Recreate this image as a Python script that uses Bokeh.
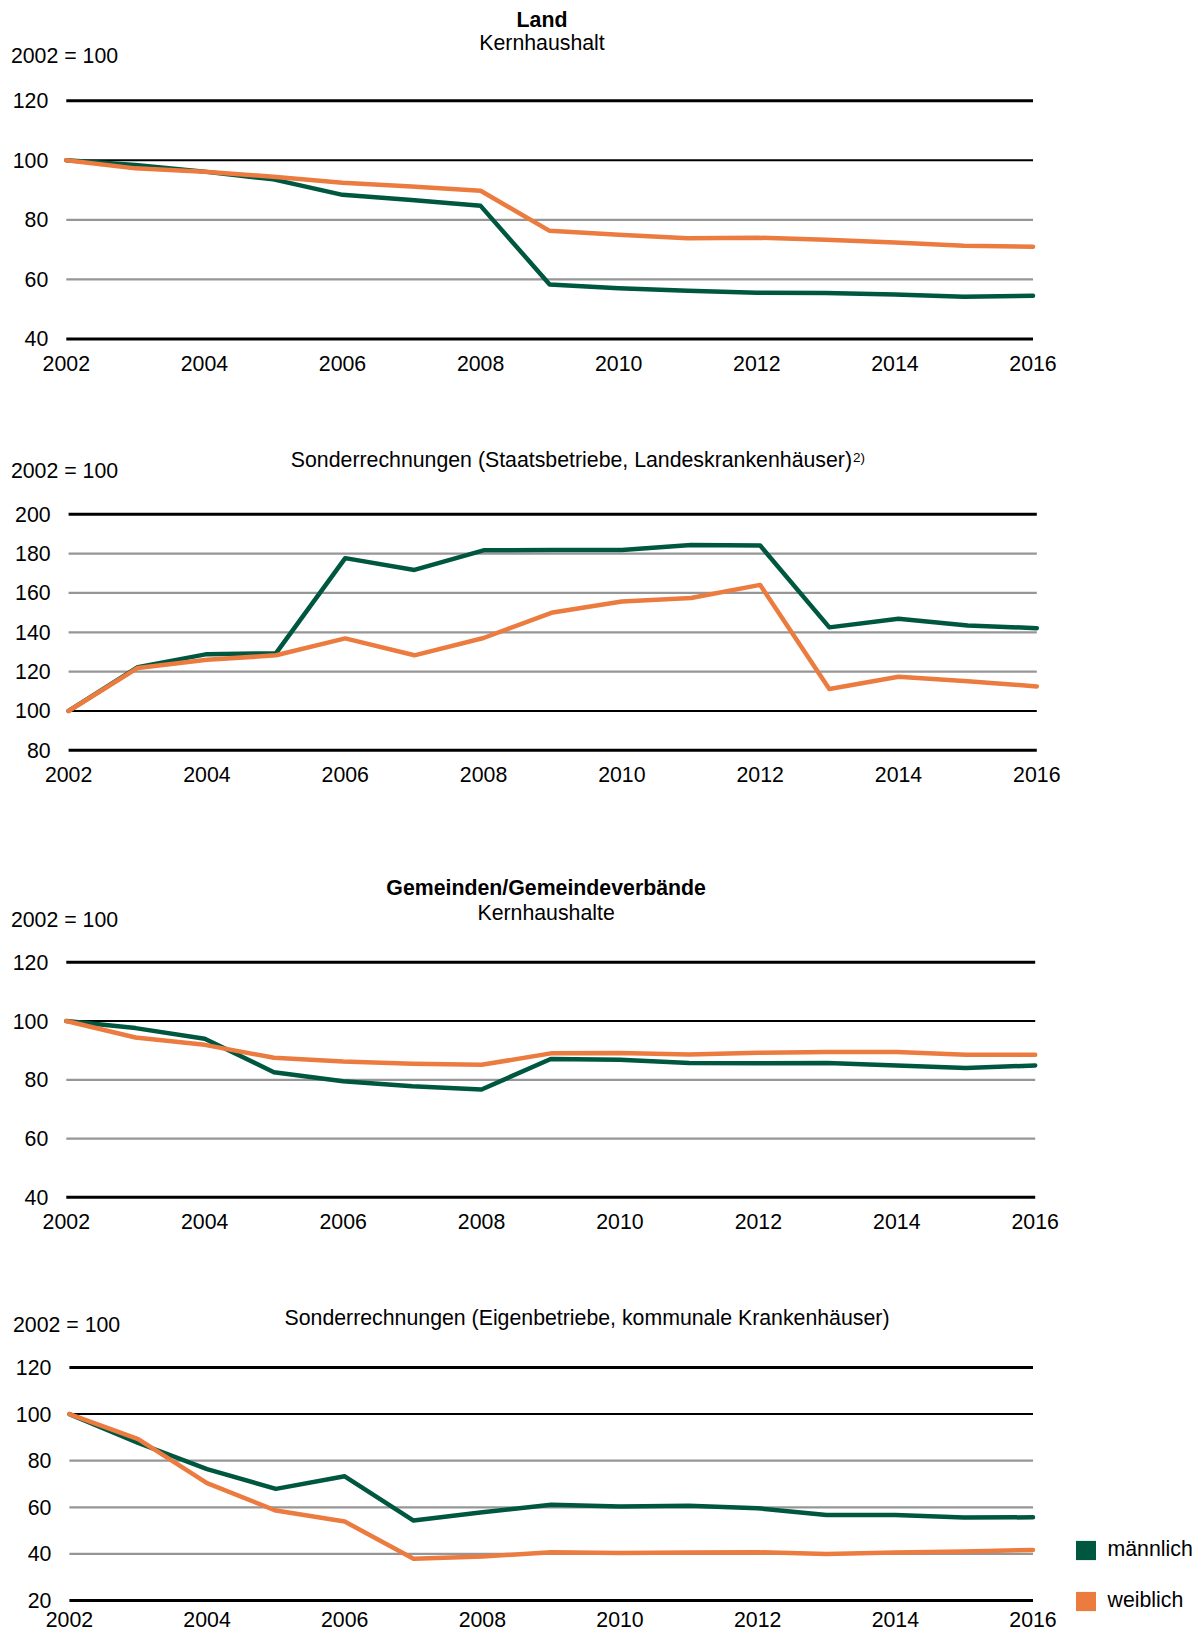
from bokeh.plotting import figure
from bokeh.models import Range1d, FixedTicker, Label, Legend, LegendItem
from bokeh.layouts import column
from bokeh.embed import file_html
from bokeh.resources import INLINE

# ---------------- data ----------------
years = [2002, 2003, 2004, 2005, 2006, 2007, 2008, 2009, 2010, 2011, 2012, 2013, 2014, 2015, 2016]
year_ticks = [2002, 2004, 2006, 2008, 2010, 2012, 2014, 2016]

land_m = [100, 98.4, 96.2, 93.6, 88.4, 86.7, 84.7, 58.3, 57.0, 56.2, 55.5, 55.4, 54.9, 54.2, 54.5]
land_w = [100, 97.3, 96.2, 94.5, 92.5, 91.2, 89.8, 76.3, 75.0, 73.8, 74.0, 73.3, 72.4, 71.3, 71.0]
land_ticks = [40, 60, 80, 100, 120]

staat_m = [100, 122.3, 128.9, 129.4, 177.7, 171.7, 181.7, 181.9, 181.9, 184.4, 184.1, 142.5, 146.9, 143.5, 142.1]
staat_w = [100, 121.9, 126.0, 128.3, 136.9, 128.3, 137.1, 150.1, 155.7, 157.4, 164.1, 111.2, 117.4, 115.1, 112.5]
staat_ticks = [80, 100, 120, 140, 160, 180, 200]

gem_m = [100, 97.6, 94.0, 82.6, 79.5, 77.8, 76.7, 87.1, 86.8, 85.7, 85.6, 85.7, 84.9, 84.0, 84.9]
gem_w = [100, 94.4, 91.9, 87.5, 86.2, 85.5, 85.1, 89.0, 89.1, 88.6, 89.2, 89.5, 89.5, 88.5, 88.5]
gem_ticks = [40, 60, 80, 100, 120]

eig_m = [100, 87.6, 76.4, 67.9, 73.3, 54.3, 57.9, 61.1, 60.3, 60.7, 59.6, 56.7, 56.7, 55.6, 55.7]
eig_w = [100, 89.3, 70.4, 58.6, 53.9, 37.9, 38.9, 40.7, 40.4, 40.6, 40.7, 40.0, 40.6, 41.0, 41.7]
eig_ticks = [20, 40, 60, 80, 100, 120]

series_names = ["männlich", "weiblich"]
index_label = "2002 = 100"

# ---------------- style / layout ----------------
FONT = "Liberation Sans"
FS = "21.3px"
GREEN = "#00573F"
ORANGE = "#EC7B3F"
GRAY = "#969696"
W = 1202


def panel(m, w, ticks, F0, F1, ytop, ybot, xl, xr, standoff=17):
    """F0/F1: page rows covered by the figure; ytop/ybot: pixel rows of the
    highest/lowest tick; xl/xr: pixel columns of first/last year."""
    H = F1 - F0
    u = (ticks[-1] - ticks[0]) / (ybot - ytop)
    y0 = ticks[0] - (F1 - ybot) * u
    y1 = ticks[-1] + (ytop - F0) * u
    ux = (years[-1] - years[0]) / (xr - xl)
    x0 = years[0] - xl * ux
    x1 = years[-1] + (W - xr) * ux
    p = figure(width=W, height=H, x_range=Range1d(x0, x1), y_range=Range1d(y0, y1),
               output_backend="svg", toolbar_location=None, min_border=0)
    p.outline_line_color = None
    p.grid.visible = False

    colors, widths = [], []
    for t in ticks:
        if t in (ticks[0], ticks[-1]):
            colors.append("black"); widths.append(3)
        elif t == 100:
            colors.append("black"); widths.append(2)
        else:
            colors.append(GRAY); widths.append(2.3)
    p.segment(x0=[years[0]] * len(ticks), x1=[years[-1]] * len(ticks),
              y0=ticks, y1=ticks, line_color=colors, line_width=widths)

    p.line(years, m, line_color=GREEN, line_width=4.5, line_join="round", line_cap="round")
    p.line(years, w, line_color=ORANGE, line_width=4.5, line_join="round", line_cap="round")

    p.xaxis.ticker = FixedTicker(ticks=year_ticks)
    p.yaxis.ticker = FixedTicker(ticks=ticks)
    p.xaxis.fixed_location = ticks[0]
    p.yaxis.fixed_location = years[0]
    for ax in (p.xaxis, p.yaxis):
        ax.axis_line_color = None
        ax.major_tick_line_color = None
        ax.minor_tick_line_color = None
        ax.major_tick_out = 0
        ax.major_tick_in = 0
        ax.major_label_text_font = FONT
        ax.major_label_text_font_size = FS
        ax.major_label_text_color = "black"
    p.yaxis.major_label_standoff = 18
    p.xaxis.major_label_standoff = standoff
    return p, F1


def lab(pf, x, y, text, align="left", bold=False, size=FS):
    p, F1 = pf
    p.add_layout(Label(x=x, y=F1 - y, x_units="screen", y_units="screen", text=text,
                       text_font=FONT, text_font_size=size, text_color="black",
                       text_align=align, text_baseline="middle",
                       text_font_style="bold" if bold else "normal"))


# Panel 1: Land / Kernhaushalt
P1 = panel(land_m, land_w, land_ticks, 0, 405, 100.3, 338.4, 65.8, 1032.5)
lab(P1, 541.5, 19, "Land", align="center", bold=True)
lab(P1, 541.5, 42.8, "Kernhaushalt", align="center")
lab(P1, 10.4, 55.3, index_label)

# Panel 2: Sonderrechnungen Land
P2 = panel(staat_m, staat_w, staat_ticks, 405, 825, 513.8, 749.8, 68.1, 1036.3)
lab(P2, 290.3, 459.5, "Sonderrechnungen (Staatsbetriebe, Landeskrankenhäuser)")
lab(P2, 852.5, 456.5, "2)", size="13.5px")
lab(P2, 10.4, 470, index_label)

# Panel 3: Gemeinden / Kernhaushalte
P3 = panel(gem_m, gem_w, gem_ticks, 825, 1255, 961.8, 1196.8, 65.8, 1034.7)
lab(P3, 545.6, 887.7, "Gemeinden/Gemeindeverbände", align="center", bold=True)
lab(P3, 545.6, 912.7, "Kernhaushalte", align="center")
lab(P3, 10.4, 919, index_label)

# Panel 4: Sonderrechnungen Gemeinden
P4 = panel(eig_m, eig_w, eig_ticks, 1255, 1637, 1367, 1600, 68.9, 1032.5, standoff=11)
lab(P4, 284, 1317.9, "Sonderrechnungen (Eigenbetriebe, kommunale Krankenhäuser)")
lab(P4, 12.5, 1324.2, index_label)

# legend proxies (one undrawn row each, so the legend has a swatch colour)
p4 = P4[0]
nan = float("nan")
rm = p4.quad(left=[nan], right=[nan], top=[nan], bottom=[nan], fill_color=GREEN, line_color=None)
rw = p4.quad(left=[nan], right=[nan], top=[nan], bottom=[nan], fill_color=ORANGE, line_color=None)
legend = Legend(items=[LegendItem(label=series_names[0], renderers=[rm]),
                       LegendItem(label=series_names[1], renderers=[rw])],
                location=(1072.5, 24), orientation="vertical",
                glyph_width=25, glyph_height=24, label_height=24,
                label_standoff=10, spacing=26, padding=0, margin=0,
                border_line_color=None, background_fill_alpha=0,
                label_text_font=FONT, label_text_font_size=FS,
                label_text_color="black")
p4.add_layout(legend)

layout = column(P1[0], P2[0], P3[0], P4[0])
open("out.html", "w").write(file_html(layout, INLINE))
